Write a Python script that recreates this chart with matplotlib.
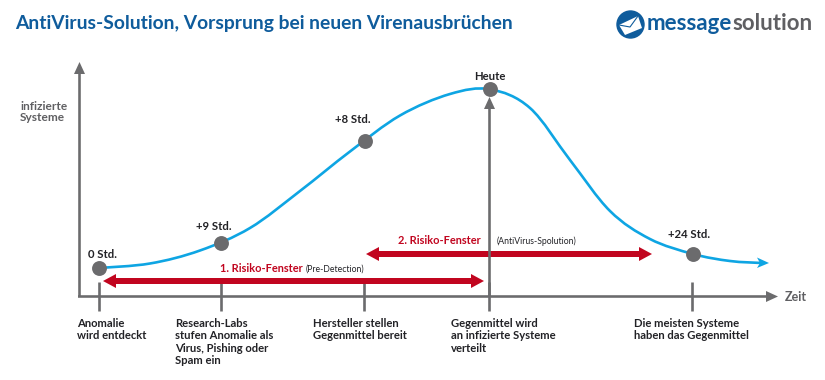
import matplotlib
matplotlib.use("Agg")
import matplotlib.pyplot as plt
from matplotlib.patches import Circle, Polygon, PathPatch
from matplotlib.path import Path

plt.rcParams['font.family'] = ['Lato', 'DejaVu Sans']

curve_x = [99, 150, 200, 250, 300, 350, 400, 450, 490, 530, 570, 610, 650, 693, 730, 762]
curve_y = [268, 263.5, 250.5, 228, 191, 151.5, 115.5, 94, 89.3, 108, 160, 211, 239, 254, 261, 263]

point_x = [99, 221, 365, 490, 693]
point_y = [268, 243, 141, 89, 254]
point_labels = ['0 Std.', '+9 Std.', '+8 Std.', 'Heute', '+24 Std.']
point_label_x = [102, 214, 353, 490, 689]
point_label_y = [254.5, 227, 119.5, 77, 234]

tick_x = [99, 221, 364, 489, 692]
tick_labels = ['Anomalie\nwird entdeckt',
               'Research-Labs\nstufen Anomalie als\nVirus, Pishing oder\nSpam ein',
               'Hersteller stellen\nGegenmittel bereit',
               'Gegenmittel wird\nan infizierte Systeme\nverteilt',
               'Die meisten Systeme\nhaben das Gegenmittel']
tick_label_x = [77, 175, 313, 451, 634]

risk_start = [103, 366]
risk_end = [484, 652]
risk_y = [281, 254]

BLUE = '#0f5c9c'
CURVE = '#0ea5e3'
GREY = '#6b6b6d'
RED = '#c1051f'
DARK = '#222226'

fig = plt.figure(figsize=(8.25, 3.8), dpi=100)
ax = fig.add_axes([0, 0, 1, 1])
ax.set_xlim(0, 825)
ax.set_ylim(380, 0)
ax.axis('off')


def arrow(x0, y0, x1, y1, color, width, head_w, head_l, z=2):
    ax.arrow(x0, y0, x1 - x0, y1 - y0, width=width, head_width=head_w, head_length=head_l,
             length_includes_head=True, color=color, linewidth=0, zorder=z)


def smooth_path(xs, ys):
    # bezier segments through the read points, so the line has no corners
    verts = [(xs[0], ys[0])]
    codes = [Path.MOVETO]
    n = len(xs)
    for i in range(n - 1):
        a = max(i - 1, 0)
        d = min(i + 2, n - 1)
        verts.append((xs[i] + (xs[i + 1] - xs[a]) / 6, ys[i] + (ys[i + 1] - ys[a]) / 6))
        verts.append((xs[i + 1] - (xs[d] - xs[i]) / 6, ys[i + 1] - (ys[d] - ys[i]) / 6))
        verts.append((xs[i + 1], ys[i + 1]))
        codes += [Path.CURVE4] * 3
    return Path(verts, codes)


# title
ax.text(15, 24, 'AntiVirus-Solution, Vorsprung bei neuen Virenausbrüchen', fontsize=13.85,
        fontweight='bold', color=BLUE, va='center', ha='left')

# logo
ax.add_patch(Circle((630.5, 24.5), 13.5, color=BLUE, zorder=2))
ax.add_patch(Polygon([(619, 25), (638, 16), (642, 28), (625, 35)], closed=True, fc='white', ec='none', zorder=3))
ax.plot([619, 630, 638], [25, 27, 16], color=BLUE, lw=0.8, zorder=4)
ax.text(647, 23.5, 'message', fontsize=16, fontweight='bold', color=BLUE, va='center', ha='left')
ax.text(732, 23.5, 'solution', fontsize=16, fontweight='bold', color='#5f5f62', va='center', ha='left')

# axes
arrow(79.5, 297, 79.5, 62, GREY, 2.6, 11, 12)
arrow(78, 296.5, 778, 296.5, GREY, 2.6, 11, 12)
ax.text(785, 297, 'Zeit', fontsize=9, fontweight='bold', color='#5f5f62', va='center', ha='left')
ax.text(20, 112, 'infizierte\nSysteme', fontsize=8.6, fontweight='bold', color='#5f5f62',
        va='center', ha='left', linespacing=1.1)

# ticks and their labels
for x, lab, lx in zip(tick_x, tick_labels, tick_label_x):
    ax.plot([x, x], [282, 311], color=GREY, lw=1.9, solid_capstyle='butt', zorder=1)
    ax.text(lx, 318, lab, fontsize=8.1, fontweight='bold', color=DARK, va='top', ha='left', linespacing=1.14)

# risk windows
for x0, x1, y in zip(risk_start, risk_end, risk_y):
    mid = (x0 + x1) / 2
    arrow(mid + 2, y, x0, y, RED, 6, 14, 13, z=2)
    arrow(mid - 2, y, x1, y, RED, 6, 14, 13, z=2)
ax.text(220.5, 269, '1. Risiko-Fenster', fontsize=7.9, fontweight='bold', color=RED, va='center', ha='left')
ax.text(306, 269, '(Pre-Detection)', fontsize=6.2, color=DARK, va='center', ha='left')
ax.text(398, 240.5, '2. Risiko-Fenster', fontsize=7.9, fontweight='bold', color=RED, va='center', ha='left')
ax.text(497, 241, '(AntiVirus-Spolution)', fontsize=6.2, color=DARK, va='center', ha='left')

# today marker
arrow(489.5, 297, 489.5, 97, GREY, 2.6, 11, 12, z=3)

# curve
ax.add_patch(PathPatch(smooth_path(curve_x, curve_y), fc='none', ec=CURVE, lw=1.9, zorder=4, capstyle='round'))
ax.add_patch(Polygon([(769, 263), (757, 257.5), (760, 263), (757, 268)], closed=True, fc=CURVE, ec='none', zorder=4))
ax.scatter(point_x, point_y, s=115, color=GREY, linewidths=0, zorder=5)
for lab, lx, ly in zip(point_labels, point_label_x, point_label_y):
    ax.text(lx, ly, lab, fontsize=8.2, fontweight='bold', color=DARK, va='center', ha='center')

fig.savefig('out.png', dpi=100)
